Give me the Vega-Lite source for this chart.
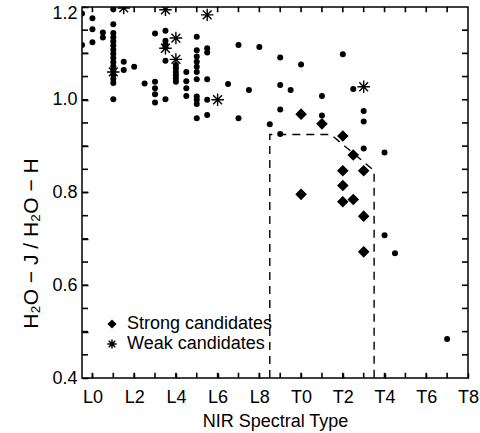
{
  "$schema": "https://vega.github.io/schema/vega-lite/v6.json",
  "width": 386,
  "height": 371,
  "autosize": {"type": "none"},
  "padding": {"left": 82, "top": 7, "right": 12, "bottom": 55},
  "background": "white",
  "config": {
    "font": "Liberation Sans",
    "view": {"stroke": "black", "strokeWidth": 1.5},
    "axis": {"domain": false, "grid": false, "labelColor": "black", "titleColor": "black", "labelFontSize": 18, "titleFontSize": 18, "titleFontWeight": "normal", "labelFont": "Liberation Sans", "titleFont": "Liberation Sans"}
  },
  "datasets": {
    "tickb": [{"t": 0, "v": 0.4}, {"t": 1, "v": 0.4}, {"t": 2, "v": 0.4}, {"t": 3, "v": 0.4}, {"t": 4, "v": 0.4}, {"t": 5, "v": 0.4}, {"t": 6, "v": 0.4}, {"t": 7, "v": 0.4}, {"t": 8, "v": 0.4}, {"t": 9, "v": 0.4}, {"t": 10, "v": 0.4}, {"t": 11, "v": 0.4}, {"t": 12, "v": 0.4}, {"t": 13, "v": 0.4}, {"t": 14, "v": 0.4}, {"t": 15, "v": 0.4}, {"t": 16, "v": 0.4}, {"t": 17, "v": 0.4}],
    "tickt": [{"t": 0, "v": 1.2}, {"t": 1, "v": 1.2}, {"t": 2, "v": 1.2}, {"t": 3, "v": 1.2}, {"t": 4, "v": 1.2}, {"t": 5, "v": 1.2}, {"t": 6, "v": 1.2}, {"t": 7, "v": 1.2}, {"t": 8, "v": 1.2}, {"t": 9, "v": 1.2}, {"t": 10, "v": 1.2}, {"t": 11, "v": 1.2}, {"t": 12, "v": 1.2}, {"t": 13, "v": 1.2}, {"t": 14, "v": 1.2}, {"t": 15, "v": 1.2}, {"t": 16, "v": 1.2}, {"t": 17, "v": 1.2}],
    "tickl": [{"t": -0.5, "v": 0.45}, {"t": -0.5, "v": 0.5}, {"t": -0.5, "v": 0.55}, {"t": -0.5, "v": 0.6}, {"t": -0.5, "v": 0.65}, {"t": -0.5, "v": 0.7}, {"t": -0.5, "v": 0.75}, {"t": -0.5, "v": 0.8}, {"t": -0.5, "v": 0.85}, {"t": -0.5, "v": 0.9}, {"t": -0.5, "v": 0.95}, {"t": -0.5, "v": 1.0}, {"t": -0.5, "v": 1.05}, {"t": -0.5, "v": 1.1}, {"t": -0.5, "v": 1.15}],
    "tickr": [{"t": 18, "v": 0.45}, {"t": 18, "v": 0.5}, {"t": 18, "v": 0.55}, {"t": 18, "v": 0.6}, {"t": 18, "v": 0.65}, {"t": 18, "v": 0.7}, {"t": 18, "v": 0.75}, {"t": 18, "v": 0.8}, {"t": 18, "v": 0.85}, {"t": 18, "v": 0.9}, {"t": 18, "v": 0.95}, {"t": 18, "v": 1.0}, {"t": 18, "v": 1.05}, {"t": 18, "v": 1.1}, {"t": 18, "v": 1.15}],
    "dots": [
      {"t": -0.5, "v": 1.186}, {"t": -0.5, "v": 1.118},
      {"t": 0, "v": 1.176}, {"t": 0, "v": 1.152}, {"t": 0, "v": 1.124},
      {"t": 0.5, "v": 1.145}, {"t": 0.5, "v": 1.134},
      {"t": 1, "v": 1.195}, {"t": 1, "v": 1.163}, {"t": 1, "v": 1.144}, {"t": 1, "v": 1.135}, {"t": 1, "v": 1.126}, {"t": 1, "v": 1.117}, {"t": 1, "v": 1.108}, {"t": 1, "v": 1.099}, {"t": 1, "v": 1.09}, {"t": 1, "v": 1.081}, {"t": 1, "v": 1.072}, {"t": 1, "v": 1.063}, {"t": 1, "v": 1.054}, {"t": 1, "v": 1.045}, {"t": 1, "v": 1.036}, {"t": 1, "v": 1.001},
      {"t": 1.5, "v": 1.082}, {"t": 1.5, "v": 1.064},
      {"t": 2, "v": 1.071},
      {"t": 2.5, "v": 1.035},
      {"t": 3, "v": 1.143}, {"t": 3, "v": 1.039}, {"t": 3, "v": 1.025}, {"t": 3, "v": 1.012}, {"t": 3, "v": 0.994},
      {"t": 3.5, "v": 1.149}, {"t": 3.5, "v": 1.127}, {"t": 3.5, "v": 1.12}, {"t": 3.5, "v": 1.113}, {"t": 3.5, "v": 1.084}, {"t": 3.5, "v": 1.001},
      {"t": 4, "v": 1.075}, {"t": 4, "v": 1.068}, {"t": 4, "v": 1.06}, {"t": 4, "v": 1.053}, {"t": 4, "v": 1.046}, {"t": 4, "v": 1.039},
      {"t": 4.5, "v": 1.06}, {"t": 4.5, "v": 1.04}, {"t": 4.5, "v": 1.025}, {"t": 4.5, "v": 1.008},
      {"t": 5, "v": 1.136}, {"t": 5, "v": 1.107}, {"t": 5, "v": 1.093}, {"t": 5, "v": 1.082}, {"t": 5, "v": 1.071}, {"t": 5, "v": 1.06}, {"t": 5, "v": 1.044}, {"t": 5, "v": 1.007}, {"t": 5, "v": 1.0}, {"t": 5, "v": 0.991}, {"t": 5, "v": 0.96},
      {"t": 5.5, "v": 1.111}, {"t": 5.5, "v": 1.102}, {"t": 5.5, "v": 1.044}, {"t": 5.5, "v": 1.0}, {"t": 5.5, "v": 0.967},
      {"t": 6.5, "v": 1.034},
      {"t": 7, "v": 1.118}, {"t": 7, "v": 0.96},
      {"t": 7.5, "v": 1.021},
      {"t": 8, "v": 1.114},
      {"t": 8.5, "v": 0.947},
      {"t": 9, "v": 1.091}, {"t": 9, "v": 1.032}, {"t": 9, "v": 0.979}, {"t": 9, "v": 0.926},
      {"t": 9.5, "v": 1.021},
      {"t": 10, "v": 1.076},
      {"t": 11, "v": 1.008}, {"t": 11, "v": 0.966},
      {"t": 12, "v": 1.098},
      {"t": 12.5, "v": 1.023},
      {"t": 13, "v": 0.976}, {"t": 13, "v": 0.953}, {"t": 13, "v": 0.895},
      {"t": 14, "v": 0.886}, {"t": 14, "v": 0.708},
      {"t": 14.5, "v": 0.669},
      {"t": 17, "v": 0.484}
    ],
    "cand": [
      {"t": 10, "v": 0.969, "type": "Strong candidates"},
      {"t": 11, "v": 0.948, "type": "Strong candidates"},
      {"t": 12, "v": 0.922, "type": "Strong candidates"},
      {"t": 12.5, "v": 0.881, "type": "Strong candidates"},
      {"t": 12, "v": 0.847, "type": "Strong candidates"},
      {"t": 13, "v": 0.847, "type": "Strong candidates"},
      {"t": 12, "v": 0.815, "type": "Strong candidates"},
      {"t": 10, "v": 0.796, "type": "Strong candidates"},
      {"t": 12, "v": 0.78, "type": "Strong candidates"},
      {"t": 12.5, "v": 0.785, "type": "Strong candidates"},
      {"t": 13, "v": 0.749, "type": "Strong candidates"},
      {"t": 13, "v": 0.672, "type": "Strong candidates"},
      {"t": 1.5, "v": 1.198, "type": "Weak candidates"},
      {"t": 3.5, "v": 1.194, "type": "Weak candidates"},
      {"t": 5.5, "v": 1.183, "type": "Weak candidates"},
      {"t": 4, "v": 1.133, "type": "Weak candidates"},
      {"t": 3.5, "v": 1.111, "type": "Weak candidates"},
      {"t": 4, "v": 1.087, "type": "Weak candidates"},
      {"t": 1, "v": 1.06, "type": "Weak candidates"},
      {"t": 6, "v": 1.0, "type": "Weak candidates"},
      {"t": 13, "v": 1.028, "type": "Weak candidates"}
    ],
    "dash": [
      {"o": 1, "t": 8.5, "v": 0.4},
      {"o": 2, "t": 8.5, "v": 0.925},
      {"o": 3, "t": 11.43, "v": 0.925},
      {"o": 4, "t": 13.5, "v": 0.847},
      {"o": 5, "t": 13.5, "v": 0.4}
    ]
  },
  "layer": [
    {
      "data": {"name": "dash"},
      "mark": {"type": "line", "color": "black", "strokeDash": [8, 6], "strokeWidth": 1.4, "clip": true},
      "encoding": {
        "x": {"field": "t", "type": "quantitative", "scale": {"domain": [-0.5, 18], "nice": false, "zero": false},
          "axis": {"orient": "bottom", "values": [0,1,2,3,4,5,6,7,8,9,10,11,12,13,14,15,16,17,18],
            "labelExpr": "datum.value % 2 == 0 ? (datum.value < 10 ? 'L' + datum.value : 'T' + (datum.value - 10)) : ''",
            "ticks": true, "tickSize": -5, "tickColor": "black", "tickWidth": 1.5, "tickOpacity": 1, "labelPadding": 15, "labelOverlap": false, "labelFlush": false,
            "title": "NIR Spectral Type", "titlePadding": 6}},
        "y": {"field": "v", "type": "quantitative", "scale": {"domain": [0.4, 1.2], "nice": false, "zero": false},
          "axis": {"orient": "left", "values": [0.4,0.45,0.5,0.55,0.6,0.65,0.7,0.75,0.8,0.85,0.9,0.95,1.0,1.05,1.1,1.15,1.2],
            "labelExpr": "(round(datum.value * 100) % 20 == 0) ? format(datum.value, '.1f') : ''",
            "labelOffset": {"condition": {"test": "datum.value > 1.19", "value": 6}, "value": 0},
            "ticks": true, "tickSize": -6, "tickColor": "black", "tickWidth": 1.5, "tickOpacity": 1, "labelPadding": 11, "labelOverlap": false, "labelFlush": false,
            "title": "H₂O − J / H₂O − H", "titleFontSize": 21, "titleX": -51, "titleY": 236, "titleBaseline": "middle", "titleAngle": -90}},
        "order": {"field": "o", "type": "quantitative"}
      }
    },
    {
      "data": {"name": "tickb"},
      "mark": {"type": "point", "shape": "M0,0L0,-1", "filled": false, "color": "black", "stroke": "black", "strokeWidth": 1.6, "opacity": 1, "size": 110},
      "encoding": {"x": {"field": "t", "type": "quantitative"}, "y": {"field": "v", "type": "quantitative"}}
    },
    {
      "data": {"name": "tickt"},
      "mark": {"type": "point", "shape": "M0,0L0,1", "filled": false, "color": "black", "stroke": "black", "strokeWidth": 1.6, "opacity": 1, "size": 110},
      "encoding": {"x": {"field": "t", "type": "quantitative"}, "y": {"field": "v", "type": "quantitative"}}
    },
    {
      "data": {"name": "tickl"},
      "mark": {"type": "point", "shape": "M0,0L1,0", "filled": false, "color": "black", "stroke": "black", "strokeWidth": 1.6, "opacity": 1, "size": 144},
      "encoding": {"x": {"field": "t", "type": "quantitative"}, "y": {"field": "v", "type": "quantitative"}}
    },
    {
      "data": {"name": "tickr"},
      "mark": {"type": "point", "shape": "M0,0L-1,0", "filled": false, "color": "black", "stroke": "black", "strokeWidth": 1.6, "opacity": 1, "size": 144},
      "encoding": {"x": {"field": "t", "type": "quantitative"}, "y": {"field": "v", "type": "quantitative"}}
    },
    {
      "data": {"name": "dots"},
      "mark": {"type": "point", "filled": true, "color": "black", "opacity": 1, "size": 36, "clip": true},
      "encoding": {
        "x": {"field": "t", "type": "quantitative"},
        "y": {"field": "v", "type": "quantitative"}
      }
    },
    {
      "data": {"name": "cand"},
      "mark": {"type": "point", "filled": false, "fill": "black", "stroke": "black", "strokeWidth": 1.4, "opacity": 1, "size": 92, "clip": true},
      "encoding": {
        "x": {"field": "t", "type": "quantitative"},
        "y": {"field": "v", "type": "quantitative"},
        "shape": {"field": "type", "type": "nominal",
          "scale": {"domain": ["Strong candidates", "Weak candidates"], "range": ["diamond", "M-1.3,0L1.3,0M0,-1.3L0,1.3M-0.92,-0.92L0.92,0.92M-0.92,0.92L0.92,-0.92"]},
          "legend": {"orient": "none", "legendX": 21, "legendY": 308, "title": null, "padding": 0, "labelFontSize": 18, "labelFont": "Liberation Sans", "labelColor": "black", "symbolSize": 50, "rowPadding": 2, "labelOffset": 6,
            "encode": {"symbols": {"update": {"fill": {"value": "black"}, "stroke": {"value": "black"}, "strokeWidth": {"value": 1.4}, "opacity": {"value": 1}, "strokeOpacity": {"value": 1}}}}}}
      }
    }
  ]
}
